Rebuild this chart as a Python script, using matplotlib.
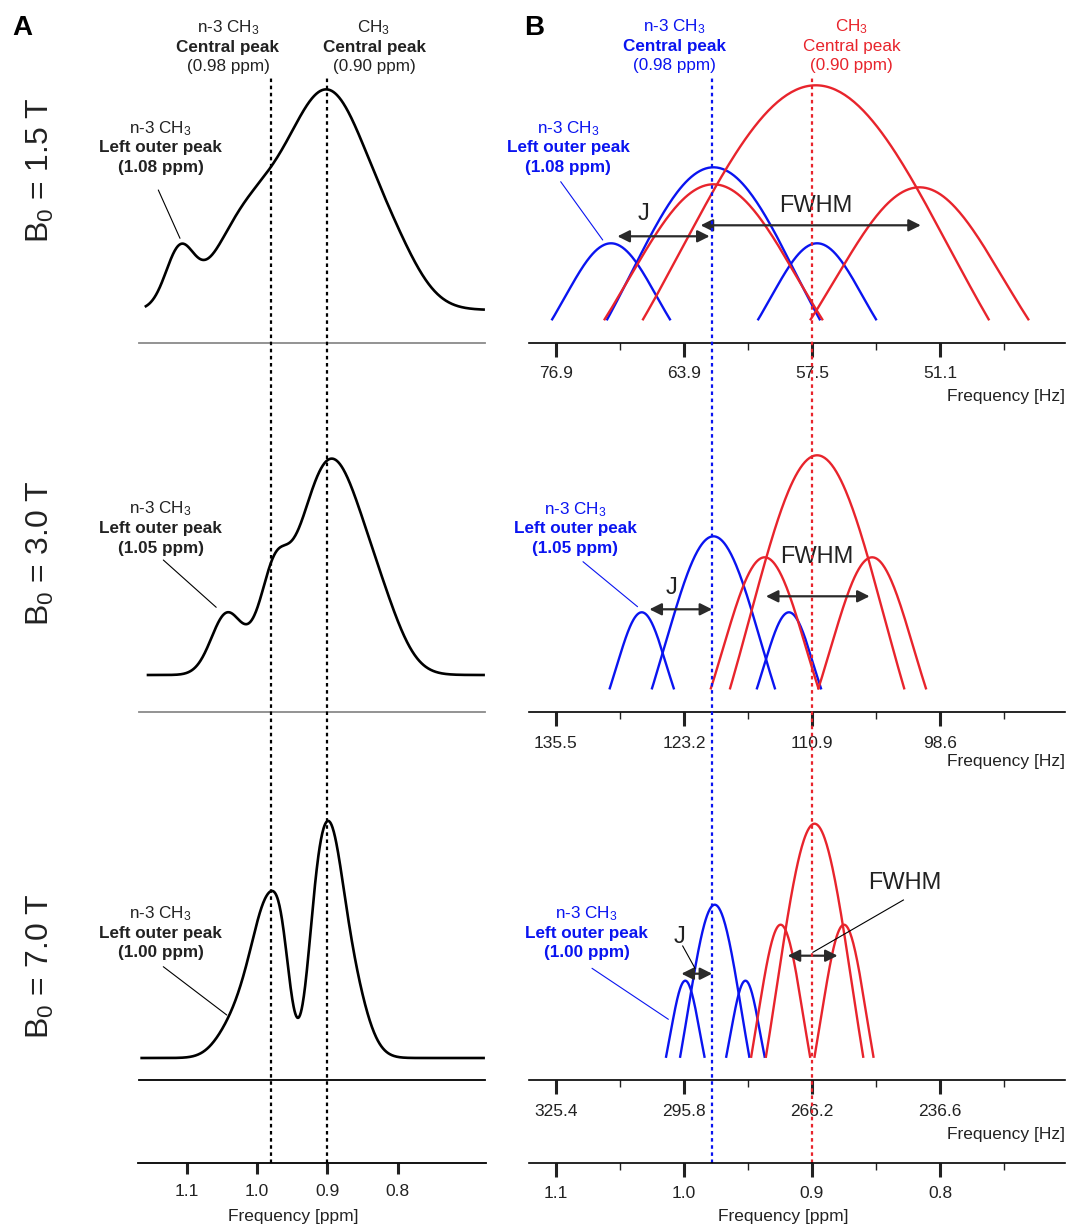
import numpy as np
import matplotlib.pyplot as plt

plt.rcParams['font.family'] = ['Liberation Sans', 'DejaVu Sans']
plt.rcParams['mathtext.fontset'] = 'custom'
plt.rcParams['mathtext.rm'] = 'Liberation Sans'
plt.rcParams['mathtext.it'] = 'Liberation Sans:italic'
plt.rcParams['mathtext.bf'] = 'Liberation Sans:bold'

W, H = 1070, 1226

# ---------------- data ----------------
fields = ['1.5', '3.0', '7.0']
outer_ppm = ['1.08', '1.05', '1.00']
ppm_ticks = [1.1, 1.0, 0.9, 0.8]
ppm_minor = [1.05, 0.95, 0.85, 0.75]
hz_labels = [['76.9', '63.9', '57.5', '51.1'],
             ['135.5', '123.2', '110.9', '98.6'],
             ['325.4', '295.8', '266.2', '236.6']]
n3_central = 0.98
ch3_central = 0.90

# panel A spectra, built from line components (centre ppm, height, width ppm)
specA_center = [[1.11, 1.02, 0.90, 0.80],
                [1.043, 0.998, 0.975, 0.895, 0.82],
                [1.03, 1.00, 0.98, 0.964, 0.918, 0.90, 0.875]]
specA_height = [[55, 72, 218, 24],
                [60, 15, 60, 215, 30],
                [35, 70, 95, 60, 50, 160, 100]]
specA_width = [[0.02, 0.045, 0.062, 0.036],
               [0.022, 0.018, 0.018, 0.048, 0.03],
               [0.025, 0.02, 0.017, 0.012, 0.012, 0.018, 0.025]]
specA_start = [1.158, 1.155, 1.164]

# panel B triplets (centre ppm, half base width ppm, height)
blue_center = [[1.057, 0.977, 0.896], [1.033, 0.977, 0.918], [0.999, 0.976, 0.952]]
blue_halfw = [[0.046, 0.083, 0.046], [0.025, 0.048, 0.025], [0.015, 0.027, 0.015]]
blue_height = [76, 152, 76]
red_center = [[0.977, 0.897, 0.816], [0.937, 0.896, 0.853], [0.9245, 0.898, 0.875]]
red_halfw = [[0.085, 0.135, 0.085], [0.042, 0.068, 0.042], [0.023, 0.038, 0.023]]
red_height = [[135, 234, 132], [131, 233, 131], [132, 233, 132]]

# J and FWHM spans (ppm) and the height they are drawn at
J_span = [(1.052, 0.980), (1.027, 0.978), (1.002, 0.978)]
J_y = [83, 79, 83]
FWHM_span = [(0.987, 0.815), (0.936, 0.855), (0.919, 0.880)]
FWHM_y = [94, 92, 101]

BLUE = '#0a14f0'
RED = '#e8242c'
DARK = '#222222'

fig = plt.figure(figsize=(W / 100, H / 100), dpi=100)


def rect(x0, x1, ytop, ybot):
    return [x0 / W, 1 - ybot / H, (x1 - x0) / W, (ybot - ytop) / H]


def ftext(x, y, s, **kw):
    kw.setdefault('ha', 'center')
    kw.setdefault('va', 'center')
    fig.text(x / W, 1 - y / H, s, **kw)


def ppmA(x):
    return 1.0 - (x - 257) / 703.3


def ppmB(x):
    return 1.0 - (x - 684) / 1280.0


def strip(ax):
    ax.patch.set_visible(False)
    for s in ['top', 'left', 'right']:
        ax.spines[s].set_visible(False)
    ax.set_yticks([])


def peak(ax, c, hw, h, color):
    k = 1.3
    x = np.linspace(c - hw, c + hw, 150)
    e0 = np.exp(-0.5 * k ** 2)
    y = h * (np.exp(-0.5 * ((x - c) / (hw / k)) ** 2) - e0) / (1 - e0)
    ax.plot(x, y, color=color, lw=1.7)


AX0, AX1 = 139, 485
BX0, BX1 = 529, 1065
rowA_spine = [342.7, 712, 1080]
rowA_off = [32.7, 37, 22]
rowA_col = ['#8a8a8a', '#8a8a8a', 'black']
rowB_spine = [342.7, 712.3, 1080]
rowB_off = [23.4, 24, 23.3]
arrow_kw = dict(arrowstyle='<|-|>,head_length=0.6,head_width=0.3', color='#2a2a2a',
                lw=1.6, mutation_scale=12, shrinkA=0, shrinkB=0)

# ---------------- panel A ----------------
for i in range(3):
    ax = fig.add_axes(rect(AX0, AX1, rowA_spine[i] - 290, rowA_spine[i]))
    strip(ax)
    ax.set_xlim(ppmA(AX0), ppmA(AX1))
    ax.set_ylim(-rowA_off[i], 290 - rowA_off[i])
    ax.set_xticks([])
    ax.spines['bottom'].set_color(rowA_col[i])
    ax.spines['bottom'].set_linewidth(1.3)
    x = np.linspace(specA_start[i], ppmA(AX1) + 0.002, 800)
    y = np.zeros_like(x)
    for c, h, w in zip(specA_center[i], specA_height[i], specA_width[i]):
        y += h * np.exp(-0.5 * ((x - c) / w) ** 2)
    ax.plot(x, y, color='black', lw=1.9)
    lead0 = [(158.3, 190), (163.3, 560), (163.3, 966.7)][i]
    lead1 = [(1.1095, 71.7), (1.058, 67.7), (1.043, 43)][i]
    ax.annotate('', xy=lead1, xycoords='data',
                xytext=(lead0[0] / W, 1 - lead0[1] / H), textcoords='figure fraction',
                arrowprops=dict(arrowstyle='-', lw=0.8, color='black', shrinkA=0, shrinkB=0))
    ly = [128.3, 509, 914][i]
    ftext(160.7, ly, r'n-3 CH$_3$', fontsize=12.3, color=DARK)
    ftext(160.7, ly + 19.5, 'Left outer peak', fontsize=12.3, fontweight='bold', color=DARK)
    ftext(160.7, ly + 39, '(%s ppm)' % outer_ppm[i], fontsize=12.3, fontweight='bold', color=DARK)
    ftext(40, [170, 553, 966][i], r'B$_0$ = %s T' % fields[i], fontsize=23, rotation=90, color=DARK)

axA = fig.add_axes(rect(AX0 - 1, AX1 + 1, 75, 1162.7))
strip(axA)
axA.set_zorder(5)
axA.set_xlim(ppmA(AX0 - 1), ppmA(AX1 + 1))
axA.set_xticks(ppm_ticks)
axA.set_xticklabels([str(t) for t in ppm_ticks])
axA.tick_params(axis='x', length=8, width=2.2, pad=7, labelsize=12.5, colors=DARK)
axA.spines['bottom'].set_linewidth(1.3)
for v in [n3_central, ch3_central]:
    axA.axvline(v, color='black', lw=1.6, ls=(0, (1.6, 1.6)))
ftext(293, 1216, 'Frequency [ppm]', fontsize=12.5, color=DARK)

ftext(228, 28, r'n-3 CH$_3$', fontsize=12.3, color=DARK)
ftext(228, 47.5, 'Central peak', fontsize=12.3, fontweight='bold', color=DARK)
ftext(228, 67, '(0.98 ppm)', fontsize=12.3, color=DARK)
ftext(374, 28, r'CH$_3$', fontsize=12.3, color=DARK)
ftext(374, 47.5, 'Central peak', fontsize=12.3, fontweight='bold', color=DARK)
ftext(374, 67, '(0.90 ppm)', fontsize=12.3, color=DARK)
ftext(22, 28, 'A', fontsize=20, fontweight='bold', color='black')

# ---------------- panel B ----------------
for i in range(3):
    ax = fig.add_axes(rect(BX0, BX1, rowB_spine[i] - 290, rowB_spine[i]))
    strip(ax)
    ax.set_xlim(ppmB(BX0), ppmB(BX1))
    ax.set_ylim(-rowB_off[i], 290 - rowB_off[i])
    ax.set_xticks(ppm_ticks)
    ax.set_xticklabels(hz_labels[i])
    ax.set_xticks(ppm_minor, minor=True)
    ax.tick_params(axis='x', which='major', length=10, width=2.2, pad=7, labelsize=12.5, colors=DARK)
    ax.tick_params(axis='x', which='minor', length=5, width=1.0, colors=DARK)
    ax.spines['bottom'].set_linewidth(1.2)
    for c, hw, h in zip(blue_center[i], blue_halfw[i], blue_height):
        peak(ax, c, hw, h, BLUE)
    for c, hw, h in zip(red_center[i], red_halfw[i], red_height[i]):
        peak(ax, c, hw, h, RED)
    ax.annotate('', xy=(J_span[i][1], J_y[i]), xytext=(J_span[i][0], J_y[i]), arrowprops=arrow_kw)
    ax.annotate('', xy=(FWHM_span[i][1], FWHM_y[i]), xytext=(FWHM_span[i][0], FWHM_y[i]),
                arrowprops=arrow_kw)
    lead0 = [(560.7, 181.7), (583, 561.7), (592, 968.3)][i]
    lead1 = [(1.0635, 79.3), (1.0363, 81.6), (1.0122, 37.4)][i]
    ax.annotate('', xy=lead1, xycoords='data',
                xytext=(lead0[0] / W, 1 - lead0[1] / H), textcoords='figure fraction',
                arrowprops=dict(arrowstyle='-', lw=0.8, color=BLUE, shrinkA=0, shrinkB=0))
    lx = [568, 575, 586.6][i]
    ly = [128.3, 509.3, 914][i]
    ftext(lx, ly, r'n-3 CH$_3$', fontsize=12.3, color=BLUE)
    ftext(lx, ly + 19.5, 'Left outer peak', fontsize=12.3, fontweight='bold', color=BLUE)
    ftext(lx, ly + 39, '(%s ppm)' % outer_ppm[i], fontsize=12.3, fontweight='bold', color=BLUE)
    ftext(BX1, [396.7, 761.7, 1135][i], 'Frequency [Hz]', fontsize=12.5, color=DARK, ha='right')

# J / FWHM labels
ftext(643.5, 214, 'J', fontsize=17, color=DARK)
ftext(816, 206, 'FWHM', fontsize=17, color=DARK)
ftext(671.7, 588.3, 'J', fontsize=17, color=DARK)
ftext(816.7, 557.3, 'FWHM', fontsize=17, color=DARK)
ftext(679, 936.7, 'J', fontsize=17, color=DARK)
ftext(904.8, 883.3, 'FWHM', fontsize=17, color=DARK)
fig.lines.append(plt.Line2D([682.7 / W, 695 / W], [1 - 946 / H, 1 - 968.3 / H],
                            transform=fig.transFigure, color='black', lw=0.8))
fig.lines.append(plt.Line2D([903.4 / W, 812.9 / W], [1 - 900 / H, 1 - 952.3 / H],
                            transform=fig.transFigure, color='black', lw=0.8))

axB = fig.add_axes(rect(BX0, BX1, 75, 1162.7))
strip(axB)
axB.set_zorder(5)
axB.set_xlim(ppmB(BX0), ppmB(BX1))
axB.set_xticks(ppm_ticks)
axB.set_xticklabels([str(t) for t in ppm_ticks])
axB.set_xticks(ppm_minor, minor=True)
axB.tick_params(axis='x', which='major', length=10, width=2.2, pad=7, labelsize=12.5, colors=DARK)
axB.tick_params(axis='x', which='minor', length=5, width=1.0, colors=DARK)
axB.spines['bottom'].set_linewidth(1.2)
axB.axvline(0.978, color=BLUE, lw=1.6, ls=(0, (1.6, 1.6)))
axB.axvline(ch3_central, color=RED, lw=1.6, ls=(0, (1.6, 1.6)))
ftext(783, 1216, 'Frequency [ppm]', fontsize=12.5, color=DARK)

ftext(674.3, 27, r'n-3 CH$_3$', fontsize=12.3, color=BLUE)
ftext(674.3, 46, 'Central peak', fontsize=12.3, fontweight='bold', color=BLUE)
ftext(674.3, 65.5, '(0.98 ppm)', fontsize=12.3, color=BLUE)
ftext(851.5, 27, r'CH$_3$', fontsize=12.3, color=RED)
ftext(851.5, 46, 'Central peak', fontsize=12.3, color=RED)
ftext(851.5, 65.5, '(0.90 ppm)', fontsize=12.3, color=RED)
ftext(534, 28, 'B', fontsize=20, fontweight='bold', color='black')

fig.savefig('out.png', dpi=100)
